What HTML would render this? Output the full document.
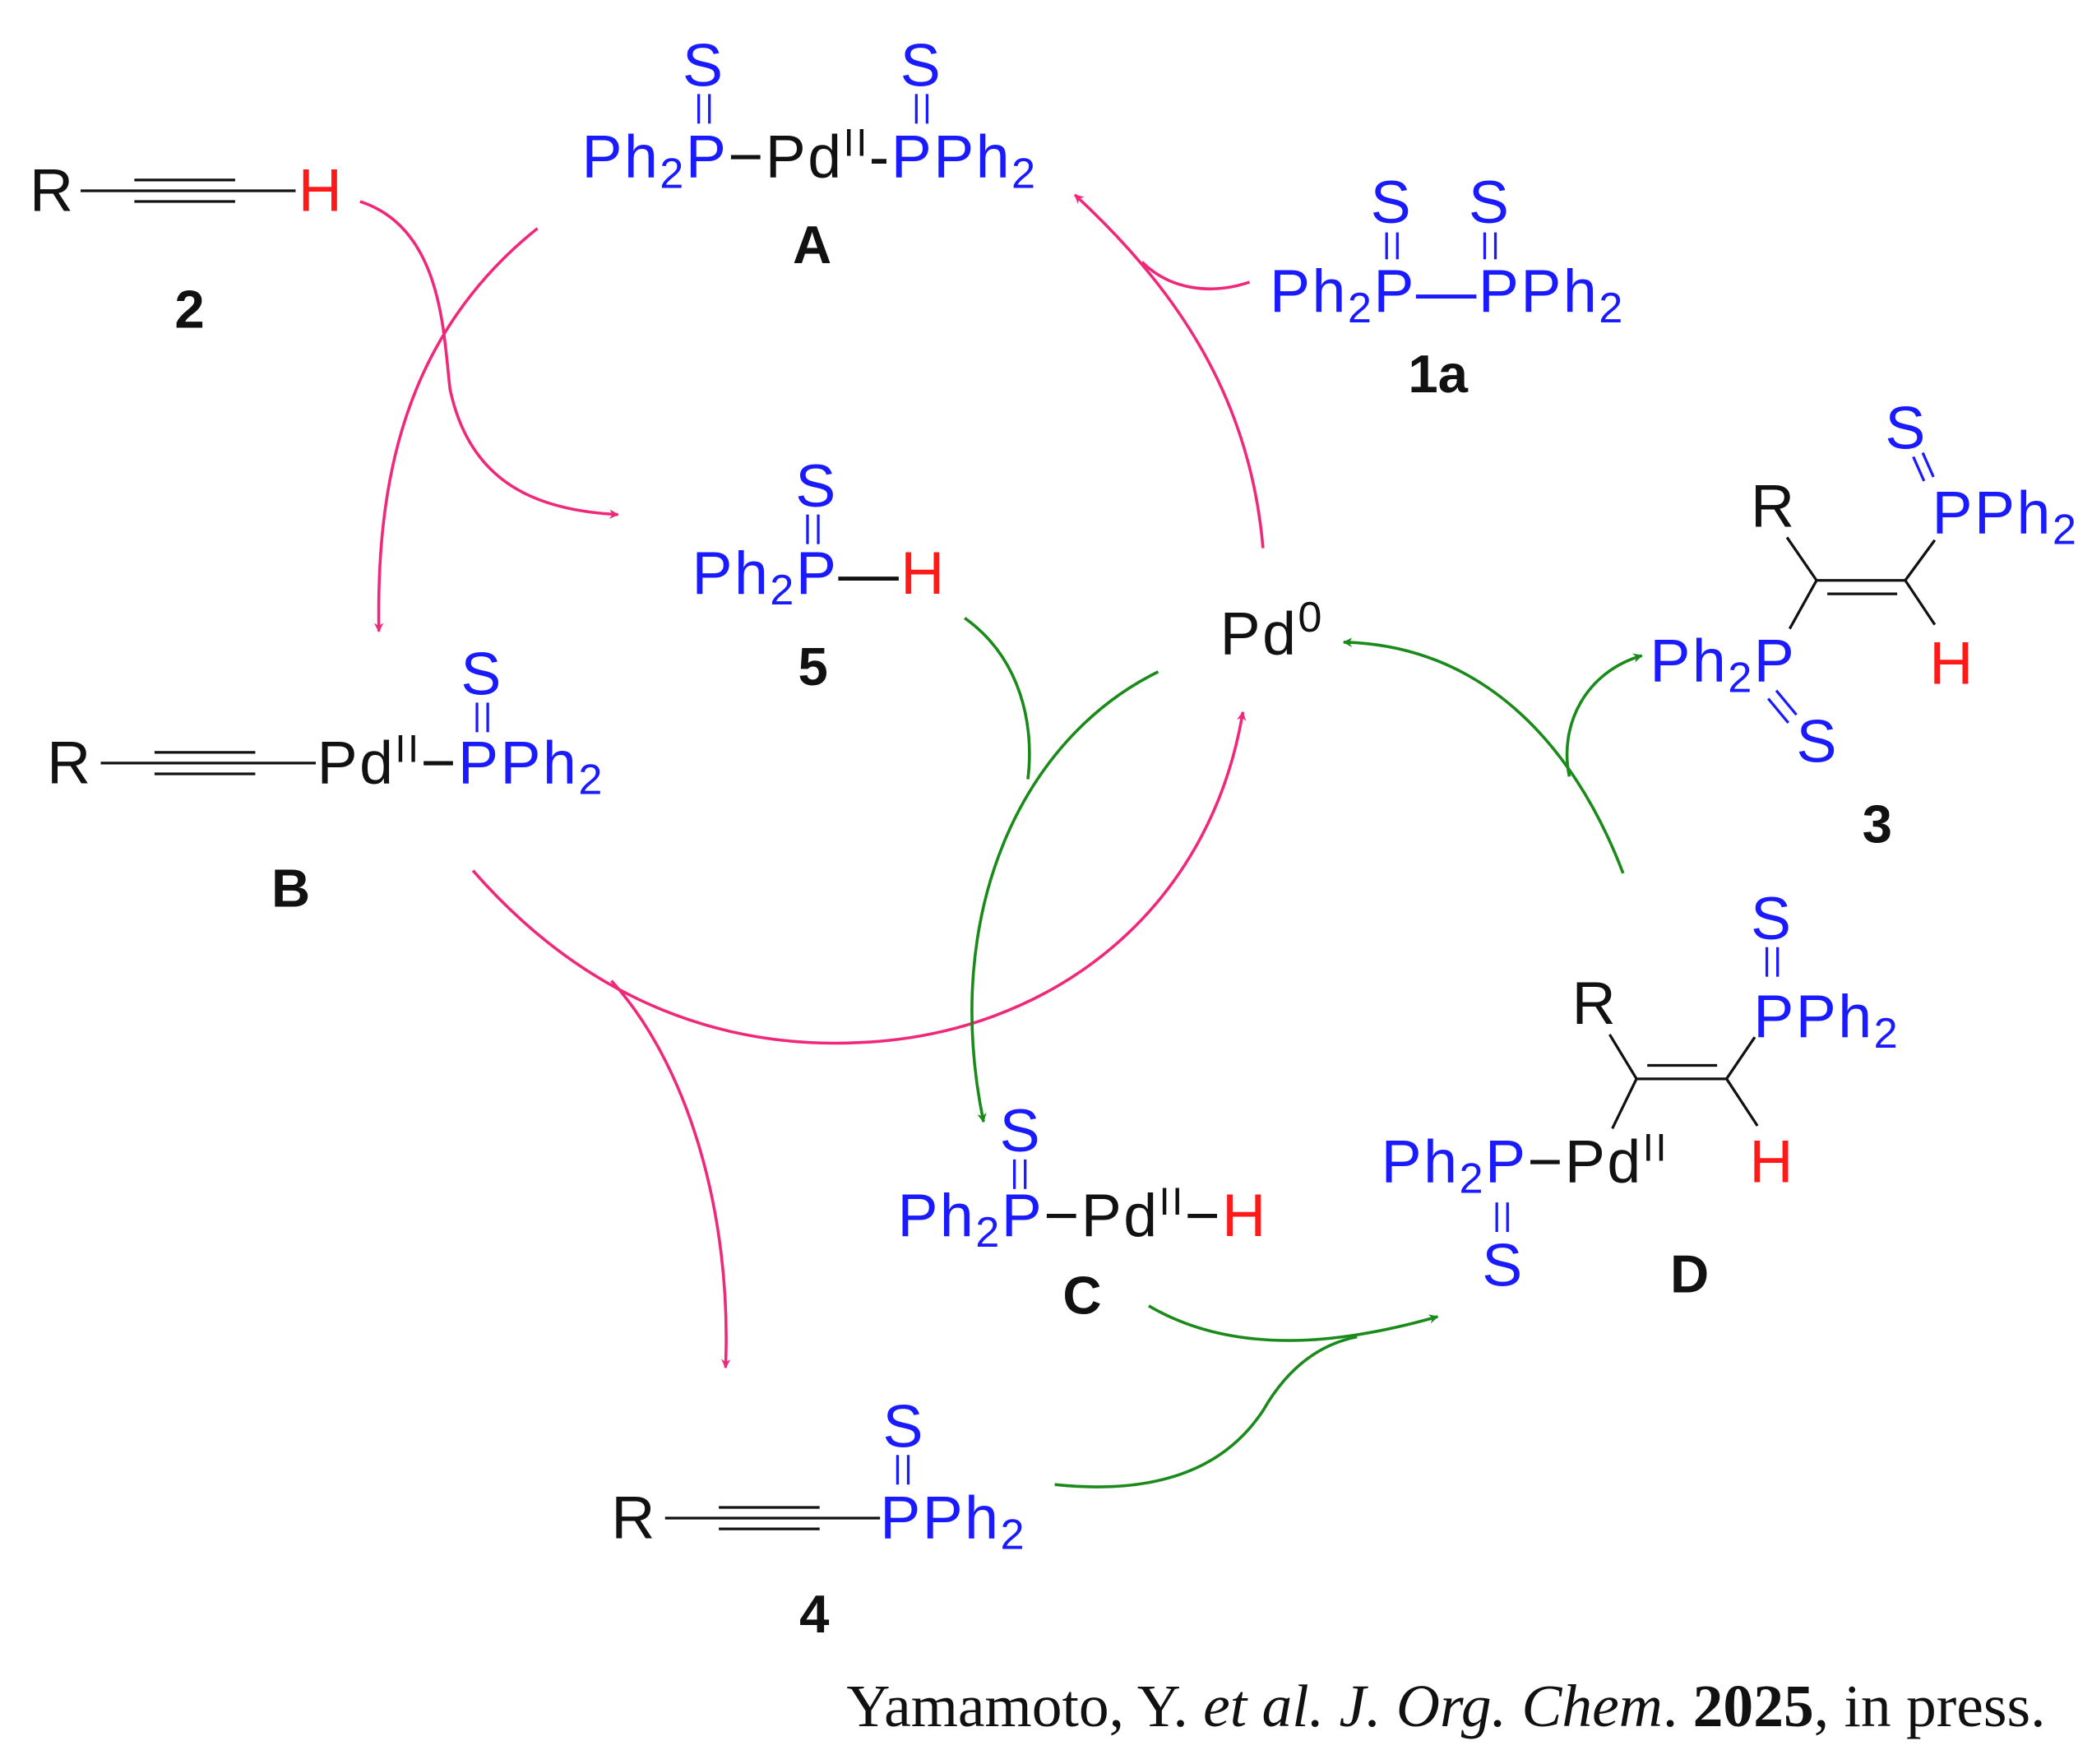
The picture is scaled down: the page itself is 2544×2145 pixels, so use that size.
<!DOCTYPE html>
<html><head><meta charset="utf-8"><style>
html,body{margin:0;padding:0;background:#fff;}
svg{display:block;}
.b{fill:#1a1aff;}
.k{fill:#111;}
.r{fill:#ff1a1a;}
text{font-family:"Liberation Sans",sans-serif;font-size:45px;letter-spacing:1.5px;}
.lab{font-weight:bold;font-size:40px;fill:#111;letter-spacing:0;}
</style></head><body>
<svg width="2544" height="2145" viewBox="0 0 1557 1313" preserveAspectRatio="none" xmlns="http://www.w3.org/2000/svg">
<defs>
<marker id="mp" viewBox="0 0 10 10" refX="9" refY="5" markerWidth="7" markerHeight="7" orient="auto" markerUnits="userSpaceOnUse"><path d="M0,0 L10,5 L0,10 L3,5 z" fill="#f0287a"/></marker>
<marker id="mg" viewBox="0 0 10 10" refX="9" refY="5" markerWidth="7" markerHeight="7" orient="auto" markerUnits="userSpaceOnUse"><path d="M0,0 L10,5 L0,10 L3,5 z" fill="#1a8a1a"/></marker>
</defs>
<style>
.pk{fill:none;stroke:#f0287a;stroke-width:2.2;}
.gr{fill:none;stroke:#1a8a1a;stroke-width:2.2;}
.bl{stroke:#111;stroke-width:2;}
.bb{stroke:#1a1aff;stroke-width:2;}
</style>

<!-- A -->
<text class="b" x="508" y="64">S</text>
<line class="bb" x1="520" y1="70" x2="520" y2="92"/><line class="bb" x1="528" y1="70" x2="528" y2="92"/>
<text class="b" x="670" y="64">S</text>
<line class="bb" x1="682" y1="70" x2="682" y2="92"/><line class="bb" x1="690" y1="70" x2="690" y2="92"/>
<text x="433" y="132"><tspan class="b">Ph</tspan><tspan class="b" font-size="32" dy="8">2</tspan><tspan class="b" dy="-8">P</tspan><tspan class="k">−Pd</tspan><tspan class="k" font-size="29" dy="-16">II</tspan><tspan class="k" dy="16">-</tspan><tspan class="b">PPh</tspan><tspan class="b" font-size="32" dy="8">2</tspan></text>
<text class="lab" x="590" y="196">A</text>

<!-- 2 -->
<text class="k" x="22" y="157">R</text>
<line class="bl" x1="60" y1="142" x2="220" y2="142"/>
<line class="bl" x1="100" y1="134" x2="175" y2="134"/>
<line class="bl" x1="100" y1="150" x2="175" y2="150"/>
<text class="r" x="222" y="157">H</text>
<text class="lab" x="130" y="244">2</text>

<!-- 1a -->
<text class="b" x="1020" y="166">S</text>
<line class="bb" x1="1032" y1="173" x2="1032" y2="193"/><line class="bb" x1="1040" y1="173" x2="1040" y2="193"/>
<text class="b" x="1093" y="166">S</text>
<line class="bb" x1="1105" y1="173" x2="1105" y2="193"/><line class="bb" x1="1113" y1="173" x2="1113" y2="193"/>
<text class="b" x="945" y="232">Ph<tspan font-size="32" dy="8">2</tspan><tspan dy="-8">P—PPh</tspan><tspan font-size="32" dy="8">2</tspan></text>
<text class="lab" x="1048" y="292">1a</text>

<!-- 5 -->
<text class="b" x="592" y="377">S</text>
<line class="bb" x1="601" y1="383" x2="601" y2="405"/><line class="bb" x1="609" y1="383" x2="609" y2="405"/>
<text x="515" y="442"><tspan class="b">Ph</tspan><tspan class="b" font-size="32" dy="8">2</tspan><tspan class="b" dy="-8">P</tspan><tspan class="k">—</tspan><tspan class="r">H</tspan></text>
<text class="lab" x="594" y="510">5</text>

<!-- Pd0 -->
<text class="k" x="908" y="487">Pd<tspan font-size="32" dy="-17">0</tspan></text>

<!-- B -->
<text class="k" x="35" y="583">R</text>
<line class="bl" x1="75" y1="568" x2="235" y2="568"/>
<line class="bl" x1="115" y1="560" x2="190" y2="560"/>
<line class="bl" x1="115" y1="576" x2="190" y2="576"/>
<text x="236" y="583"><tspan class="k">Pd</tspan><tspan class="k" font-size="29" dy="-16">II</tspan><tspan class="k" dy="16">−</tspan><tspan class="b">PPh</tspan><tspan class="b" font-size="32" dy="8">2</tspan></text>
<text class="b" x="343" y="517">S</text>
<line class="bb" x1="355" y1="523" x2="355" y2="545"/><line class="bb" x1="363" y1="523" x2="363" y2="545"/>
<text class="lab" x="202" y="675">B</text>

<!-- 3 -->
<text class="b" x="1403" y="334">S</text>
<line class="bb" x1="1424" y1="340" x2="1432" y2="358"/><line class="bb" x1="1431" y1="337" x2="1439" y2="355"/>
<text class="b" x="1438" y="397">PPh<tspan font-size="32" dy="8">2</tspan></text>
<text class="k" x="1303" y="392">R</text>
<line class="bl" x1="1330" y1="400" x2="1352" y2="432"/>
<line class="bl" x1="1352" y1="432" x2="1418" y2="432"/>
<line class="bl" x1="1360" y1="442" x2="1412" y2="442"/>
<line class="bl" x1="1418" y1="432" x2="1440" y2="402"/>
<line class="bl" x1="1418" y1="432" x2="1440" y2="465"/>
<line class="bl" x1="1352" y1="432" x2="1332" y2="468"/>
<text class="b" x="1228" y="507">Ph<tspan font-size="32" dy="8">2</tspan><tspan dy="-8">P</tspan></text>
<line class="bb" x1="1322" y1="514" x2="1337" y2="532"/><line class="bb" x1="1316" y1="520" x2="1331" y2="538"/>
<text class="b" x="1337" y="567">S</text>
<text class="r" x="1436" y="509">H</text>
<text class="lab" x="1386" y="627">3</text>

<!-- D -->
<text class="b" x="1303" y="699">S</text>
<line class="bb" x1="1315" y1="705" x2="1315" y2="727"/><line class="bb" x1="1323" y1="705" x2="1323" y2="727"/>
<text class="b" x="1305" y="772">PPh<tspan font-size="32" dy="8">2</tspan></text>
<text class="k" x="1170" y="762">R</text>
<line class="bl" x1="1198" y1="770" x2="1218" y2="803"/>
<line class="bl" x1="1218" y1="803" x2="1285" y2="803"/>
<line class="bl" x1="1226" y1="793" x2="1278" y2="793"/>
<line class="bl" x1="1285" y1="803" x2="1306" y2="772"/>
<line class="bl" x1="1285" y1="803" x2="1308" y2="838"/>
<line class="bl" x1="1218" y1="803" x2="1200" y2="840"/>
<text x="1028" y="880"><tspan class="b">Ph</tspan><tspan class="b" font-size="32" dy="8">2</tspan><tspan class="b" dy="-8">P</tspan><tspan class="k">−Pd</tspan><tspan class="k" font-size="29" dy="-16">II</tspan></text>
<line class="bb" x1="1114" y1="895" x2="1114" y2="917"/><line class="bb" x1="1122" y1="895" x2="1122" y2="917"/>
<text class="b" x="1103" y="957">S</text>
<text class="r" x="1302" y="880">H</text>
<text class="lab" x="1243" y="962">D</text>

<!-- C -->
<text class="b" x="744" y="857">S</text>
<line class="bb" x1="755" y1="863" x2="755" y2="885"/><line class="bb" x1="763" y1="863" x2="763" y2="885"/>
<text x="668" y="920"><tspan class="b">Ph</tspan><tspan class="b" font-size="32" dy="8">2</tspan><tspan class="b" dy="-8">P</tspan><tspan class="k">−Pd</tspan><tspan class="k" font-size="29" dy="-16">II</tspan><tspan class="k" dy="16">−</tspan><tspan class="r">H</tspan></text>
<text class="lab" x="791" y="978">C</text>

<!-- 4 -->
<text class="k" x="455" y="1145">R</text>
<line class="bl" x1="495" y1="1130" x2="655" y2="1130"/>
<line class="bl" x1="535" y1="1122" x2="610" y2="1122"/>
<line class="bl" x1="535" y1="1138" x2="610" y2="1138"/>
<text class="b" x="655" y="1145">PPh<tspan font-size="32" dy="8">2</tspan></text>
<text class="b" x="657" y="1077">S</text>
<line class="bb" x1="668" y1="1083" x2="668" y2="1105"/><line class="bb" x1="676" y1="1083" x2="676" y2="1105"/>
<text class="lab" x="595" y="1215">4</text>

<!-- pink arrows -->
<path class="pk" d="M268,150 C330,170 330,250 335,290 C350,360 400,380 460,383" marker-end="url(#mp)"/>
<path class="pk" d="M400,170 C300,250 280,360 282,470" marker-end="url(#mp)"/>
<path class="pk" d="M940,408 C930,290 870,210 800,145" marker-end="url(#mp)"/>
<path class="pk" d="M930,210 C900,220 870,215 850,195"/>
<path class="pk" d="M352,648 C450,760 560,780 640,776 C780,770 900,680 925,530" marker-end="url(#mp)"/>
<path class="pk" d="M455,730 C510,790 545,900 540,1018" marker-end="url(#mp)"/>

<!-- green arrows -->
<path class="gr" d="M718,460 C760,490 770,540 765,580"/>
<path class="gr" d="M862,500 C760,550 700,680 732,835" marker-end="url(#mg)"/>
<path class="gr" d="M855,972 C920,1010 1000,1000 1070,980" marker-end="url(#mg)"/>
<path class="gr" d="M785,1105 C880,1115 920,1080 940,1050 C960,1015 985,1000 1010,995"/>
<path class="gr" d="M1208,650 C1170,550 1100,480 1000,478" marker-end="url(#mg)"/>
<path class="gr" d="M1168,578 C1160,540 1180,500 1222,488" marker-end="url(#mg)"/>

<!-- citation -->
<text x="630" y="1285" style="font-family:'Liberation Serif',serif;font-size:45px;fill:#111;letter-spacing:0;">Yamamoto, Y. <tspan font-style="italic">et al. J. Org. Chem</tspan>. <tspan font-weight="bold">2025</tspan>, in press.</text>
</svg>
</body></html>
